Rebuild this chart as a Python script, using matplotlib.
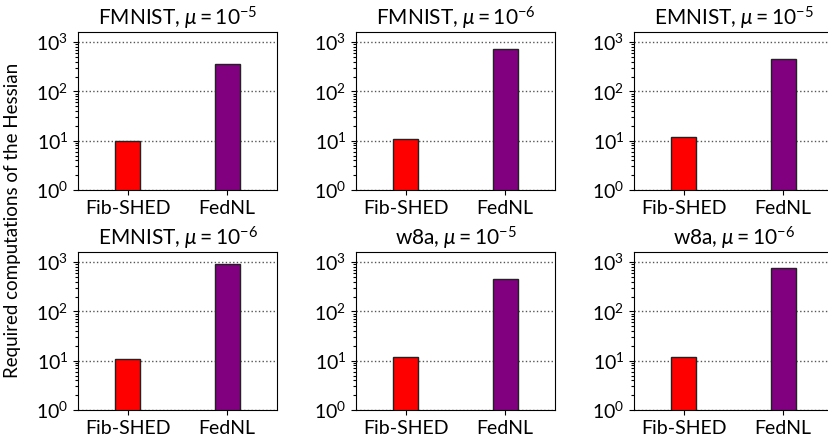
import matplotlib
matplotlib.use("Agg")
import matplotlib.pyplot as plt
from matplotlib.ticker import LogLocator, NullFormatter

plt.rcParams['font.family'] = ['Lato', 'DejaVu Sans']
plt.rcParams['mathtext.fontset'] = 'custom'
plt.rcParams['mathtext.rm'] = 'Lato'
plt.rcParams['mathtext.it'] = 'Lato:italic'
plt.rcParams['mathtext.bf'] = 'Lato:bold'

methods = ['Fib-SHED', 'FedNL']
bar_colors = ['red', 'purple']

titles = [r'FMNIST, $\mu = 10^{-5}$', r'FMNIST, $\mu = 10^{-6}$', r'EMNIST, $\mu = 10^{-5}$',
          r'EMNIST, $\mu = 10^{-6}$', r'w8a, $\mu = 10^{-5}$', r'w8a, $\mu = 10^{-6}$']

# hessian computations needed by each method
fib_shed = [10, 11, 12, 11, 12, 12]
fednl = [355, 710, 450, 915, 450, 770]

W, H = 829, 440
fig = plt.figure(figsize=(W / 100, H / 100), dpi=100)

# axes boxes in pixels: left, top, width, height
lefts = [78, 356, 634]
tops = [32, 252]
aw, ah = 199, 158

for i in range(6):
    r, c = divmod(i, 3)
    l, t = lefts[c], tops[r]
    ax = fig.add_axes([l / W, 1 - (t + ah) / H, aw / W, ah / H])
    ax.bar([0, 1], [fib_shed[i], fednl[i]], width=0.25, color=bar_colors,
           edgecolor='#222222', linewidth=1)
    ax.set_yscale('log')
    ax.set_ylim(1, 1600)
    ax.set_xlim(-0.5, 1.5)
    ax.set_xticks([0, 1])
    ax.set_xticklabels(methods)
    ax.yaxis.set_major_locator(LogLocator(base=10, numticks=10))
    ax.yaxis.set_minor_locator(LogLocator(base=10, subs=range(2, 10), numticks=20))
    ax.yaxis.set_minor_formatter(NullFormatter())
    ax.tick_params(labelsize=14, length=3.5)
    ax.tick_params(which='minor', length=2, width=0.8)
    ax.yaxis.grid(True, which='major', linestyle=':', color='#555555', linewidth=1)
    ax.set_axisbelow(True)
    ax.set_title(titles[i], fontsize=15, pad=5)

fig.text(13 / W, 0.5, 'Required computations of the Hessian', rotation=90,
         ha='center', va='center', fontsize=13.5)

plt.savefig("out.png", dpi=100)
